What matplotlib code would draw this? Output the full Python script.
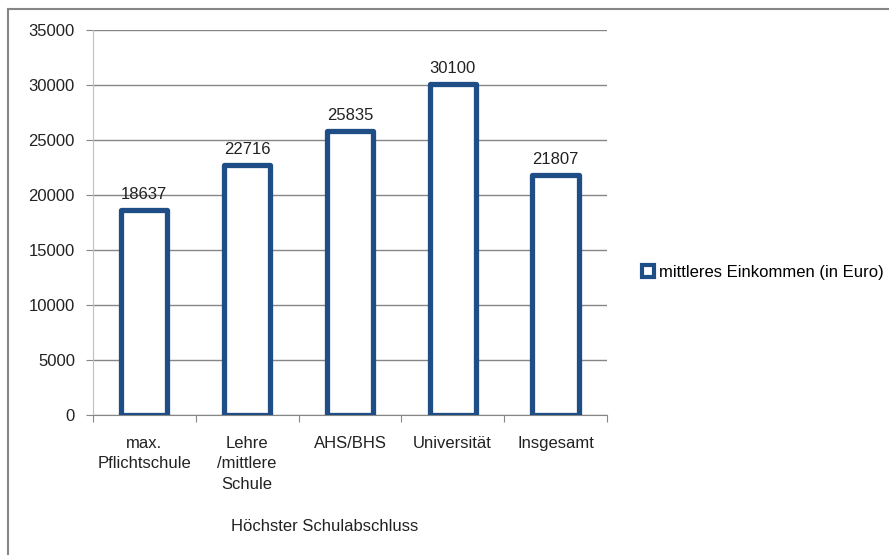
import numpy as np
import matplotlib
matplotlib.use("Agg")
import matplotlib.pyplot as plt
from matplotlib.lines import Line2D

# data
categories = ["max.\nPflichtschule", "Lehre\n/mittlere\nSchule", "AHS/BHS", "Universität", "Insgesamt"]
einkommen = [18637, 22716, 25835, 30100, 21807]
series_name = "mittleres Einkommen (in Euro)"
x_title = "Höchster Schulabschluss"

plt.rcParams['font.family'] = ['Liberation Sans', 'DejaVu Sans']
blue = "#1F4E86"
grid_gray = "#868686"
txt = "#222222"
fs = 12

fig = plt.figure(figsize=(8.89, 5.55), dpi=100)
ax = fig.add_axes([0.1046, 0.2523, 0.578, 0.6937])

x = np.arange(len(categories))
bars = ax.bar(x, einkommen, width=0.45, facecolor="white", edgecolor=blue,
              linewidth=3.8, zorder=3, label=series_name)
for b in bars:
    b.set_joinstyle("round")

for xi, v in zip(x, einkommen):
    ax.text(xi, v + 750, str(v), ha="center", va="bottom", fontsize=fs, color=txt)

ax.set_xlim(-0.5, len(categories) - 0.5)
ax.set_ylim(0, 35000)
ax.set_yticks(np.arange(0, 35001, 5000))
ax.yaxis.grid(True, color=grid_gray, linewidth=1, zorder=0)
ax.set_axisbelow(True)

# category ticks sit between the categories
ax.set_xticks(np.arange(-0.5, len(categories), 1.0))
ax.set_xticklabels([])
ax.set_xticks(x, minor=True)
ax.set_xticklabels(categories, minor=True, fontsize=fs, color=txt, linespacing=1.45)
ax.tick_params(axis="x", which="minor", length=0, pad=15)
ax.tick_params(axis="x", which="major", length=5, color=grid_gray)
ax.tick_params(axis="y", length=5, color=grid_gray, labelsize=fs, labelcolor=txt, pad=8)

for s in ["top", "right"]:
    ax.spines[s].set_visible(False)
ax.spines["left"].set_color("#BFBFBF")
ax.spines["bottom"].set_color(grid_gray)

ax.set_xlabel(x_title, fontsize=fs, color=txt)
ax.xaxis.set_label_coords(0.45, -0.27)

leg = ax.legend(loc="center left", bbox_to_anchor=(1.04, 0.37), frameon=False,
                fontsize=fs, handlelength=0.7, handleheight=0.7, handletextpad=0.3)
for h in leg.legend_handles:
    h.set_linewidth(3)

# chart area border (only top and left visible)
fig.add_artist(Line2D([8 / 889, 1.0], [1 - 9 / 555, 1 - 9 / 555], color=grid_gray, linewidth=1.5))
fig.add_artist(Line2D([8 / 889, 8 / 889], [0.0, 1 - 9 / 555], color=grid_gray, linewidth=1.5))

fig.savefig("out.png", dpi=100)
